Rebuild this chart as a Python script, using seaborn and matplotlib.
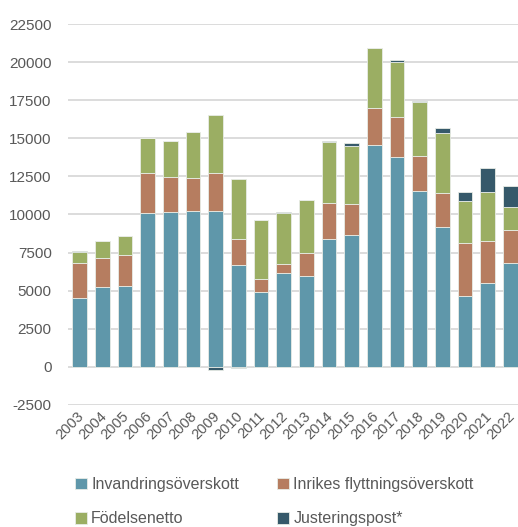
import matplotlib.pyplot as plt
import matplotlib.transforms as mtransforms
import numpy as np
import pandas as pd
import seaborn as sns

years = [str(y) for y in range(2003, 2023)]

invandring = [4490, 5210, 5320, 10070, 10180, 10200, 10200, 6700, 4930, 6130,
              5980, 8370, 8650, 14540, 13750, 11540, 9150, 4640, 5520, 6790]
inrikes = [2340, 1950, 2030, 2630, 2300, 2210, 2500, 1670, 850, 590,
           1470, 2380, 2010, 2430, 2670, 2320, 2230, 3480, 2720, 2170]
fodelse = [720, 1080, 1230, 2340, 2360, 3020, 3810, 3980, 3850, 3390,
           3500, 4030, 3830, 3980, 3590, 3550, 3960, 2780, 3240, 1550]
justering = [50, 0, 0, 0, 0, 0, -250, -80, 0, 50,
             0, 50, 220, 0, 110, 70, 310, 590, 1600, 1380]

series = ["Invandringsöverskott", "Inrikes flyttningsöverskott",
          "Födelsenetto", "Justeringspost*"]
colors = ["#5f97aa", "#b67d60", "#9bae63", "#36596a"]

df = pd.DataFrame({"year": years, series[0]: invandring, series[1]: inrikes,
                   series[2]: fodelse, series[3]: justering})

sns.set_theme(style="white")
plt.rcParams["font.family"] = ["Liberation Sans", "DejaVu Sans"]
plt.rcParams["axes.unicode_minus"] = False

fig = plt.figure(figsize=(5.18, 5.27), dpi=100)
ax = fig.add_axes([0.132, 0.232, 0.875, 0.722])

# stack positives upwards and negatives downwards
pos_base = np.zeros(len(years))
neg_base = np.zeros(len(years))
for name, col in zip(series, colors):
    vals = df[name].to_numpy(dtype=float)
    bottom = np.where(vals >= 0, pos_base, neg_base)
    sns.barplot(x=df["year"], y=vals, bottom=bottom, color=col, width=0.65,
                edgecolor="#e8ece6", linewidth=0.6, ax=ax, label=name,
                saturation=1)
    pos_base += np.where(vals >= 0, vals, 0)
    neg_base += np.where(vals < 0, vals, 0)

ax.set_ylim(-2500, 22500)
ax.set_xlim(-0.5, len(years) - 0.5)
ax.set_yticks(np.arange(-2500, 22501, 2500))
ax.yaxis.grid(True, color="#d9d9d9", linewidth=1.3)
ax.set_axisbelow(True)
for s in ax.spines.values():
    s.set_visible(False)
ax.set_xlabel("")
ax.set_ylabel("")
ax.tick_params(axis="y", labelsize=11, colors="#595959", length=0, pad=12)
ax.tick_params(axis="x", labelsize=10.5, colors="#595959", length=0, pad=3)
shift = mtransforms.ScaledTranslation(-3 / 100, 0, fig.dpi_scale_trans)
for lab in ax.get_xticklabels():
    lab.set_rotation(45)
    lab.set_ha("right")
    lab.set_rotation_mode("anchor")
    lab.set_transform(lab.get_transform() + shift)

handles, labels = ax.get_legend_handles_labels()
order = [0, 2, 1, 3]
fig.legend([handles[i] for i in order], [labels[i] for i in order],
           loc="lower center", bbox_to_anchor=(0.53, -0.026),
           ncol=2, frameon=False, fontsize=11.5, handlelength=0.75,
           handleheight=0.75, handletextpad=0.25, columnspacing=2.4,
           labelspacing=1.2, labelcolor="#595959")
if ax.legend_:
    ax.legend_.remove()

fig.savefig("out.png", dpi=100)
